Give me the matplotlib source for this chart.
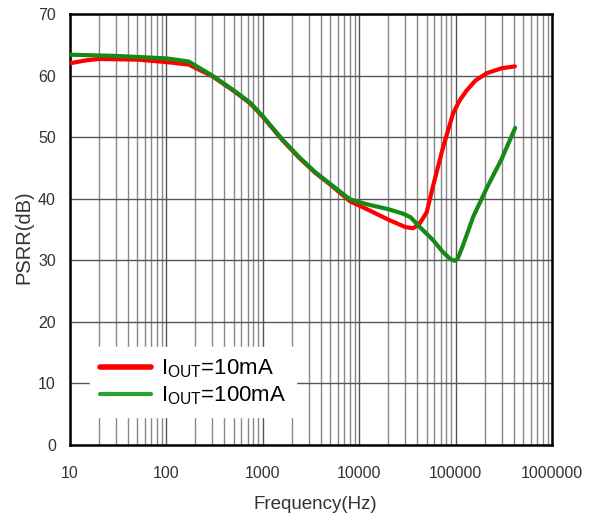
import numpy as np
from matplotlib import pyplot as plt
from matplotlib.ticker import FixedLocator, NullFormatter, LogLocator

plt.rcParams['font.family'] = ['Liberation Sans', 'DejaVu Sans']

# PSRR (Hz, dB)
freq_10ma = [10, 15, 20, 50, 100, 170, 300, 500, 740, 1000, 1600, 2400, 3500, 5000,
             8000, 12000, 20000, 30000, 36000, 42000, 50000, 58000, 74000, 94000,
             110000, 130000, 160000, 210000, 300000, 410000]
psrr_10ma = [62.0, 62.5, 62.7, 62.6, 62.2, 61.8, 59.9, 57.5, 55.5, 53.3, 49.5, 46.6, 44.2, 42.3,
             39.6, 38.3, 36.6, 35.4, 35.2, 35.9, 37.8, 42.0, 48.4, 53.9,
             56.0, 57.6, 59.2, 60.4, 61.2, 61.5]

freq_100ma = [10, 30, 100, 170, 300, 500, 740, 1000, 1600, 2400, 3500, 5000,
              8000, 12000, 20000, 28000, 34000, 43000, 58000, 74000, 88000, 98000,
              105000, 120000, 151000, 212000, 300000, 413000]
psrr_100ma = [63.4, 63.2, 62.8, 62.3, 60.0, 57.6, 55.6, 53.4, 49.6, 46.7, 44.3, 42.4,
              39.9, 39.1, 38.3, 37.6, 37.0, 35.3, 33.3, 31.3, 30.2, 29.9,
              30.3, 32.6, 37.0, 41.9, 46.5, 51.5]

fig = plt.figure(figsize=(5.97, 5.21), dpi=100)
ax = fig.add_axes([0.117, 0.146, 0.808, 0.827])

ax.semilogx(freq_10ma, psrr_10ma, color='#ff0000', lw=3, label=r'I$_{\mathregular{OUT}}$=10mA',
            solid_capstyle='round', solid_joinstyle='round', zorder=3)
ax.semilogx(freq_100ma, psrr_100ma, color='#168a16', lw=3, label=r'I$_{\mathregular{OUT}}$=100mA',
            solid_capstyle='round', solid_joinstyle='round', zorder=3)

ax.set_xlim(10, 1e6)
ax.set_ylim(0, 70)
ax.xaxis.set_major_locator(FixedLocator([10, 100, 1000, 10000, 100000, 1000000]))
ax.set_xticklabels(['10', '100', '1000', '10000', '100000', '1000000'])
ax.xaxis.set_minor_locator(LogLocator(base=10, subs=np.arange(2, 10)))
ax.xaxis.set_minor_formatter(NullFormatter())
ax.set_yticks(range(0, 71, 10))

ax.grid(True, which='major', axis='both', color='#555555', lw=1.0)
ax.grid(True, which='minor', axis='x', color='#888888', lw=1.0)
ax.tick_params(which='both', length=0, labelsize=11.5, labelcolor='#333333')
ax.tick_params(axis='x', pad=15)
ax.tick_params(axis='y', pad=10)

for s in ax.spines.values():
    s.set_linewidth(1.8)

ax.set_xlabel('Frequency(Hz)', fontsize=13.5, color='#333333')
ax.set_ylabel('PSRR(dB)', fontsize=14.5, color='#333333')
ax.xaxis.set_label_coords(0.508, -0.118)
ax.yaxis.set_label_coords(-0.075, 0.481)

leg = ax.legend(loc='lower left', bbox_to_anchor=(0.0415, 0.065), fontsize=16, frameon=True,
                fancybox=False, edgecolor='white', framealpha=1, handlelength=2.3,
                handletextpad=0.45, borderpad=0.45, labelspacing=0.2, borderaxespad=0)
leg.get_lines()[0].set_linewidth(4)
leg.get_lines()[1].set_color('#2ca02c')
leg.get_lines()[1].set_linewidth(3)

fig.savefig('out.png', dpi=100)
